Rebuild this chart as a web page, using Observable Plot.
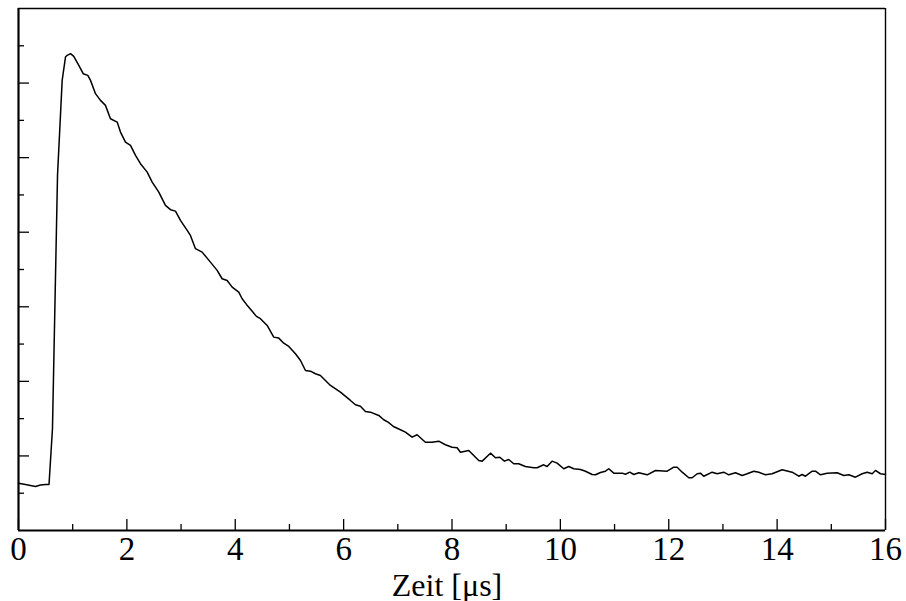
<!DOCTYPE html>
<html>
<head>
<meta charset="utf-8">
<script src="https://cdn.jsdelivr.net/npm/d3@7"></script>
<script src="https://cdn.jsdelivr.net/npm/@observablehq/plot@0.6"></script>
<style>
  html, body { margin: 0; padding: 0; background: #fff; }
  #chart { width: 906px; height: 601px; }
  #chart svg text { font-family: "Liberation Serif", "Times New Roman", serif; }
</style>
</head>
<body>
<div id="chart"></div>
<script>
// Time axis in µs
const time = [
  0, 0.129, 0.221, 0.314, 0.406, 0.498, 0.563,
  0.627, 0.720, 0.806, 0.867, 0.899, 0.960, 1.020, 1.113, 1.194, 1.279, 1.329, 1.421, 1.513,
  1.605, 1.697, 1.821, 1.882, 1.974, 2.067, 2.159, 2.251, 2.375, 2.467, 2.589, 2.712, 2.805,
  2.897, 2.989, 3.113, 3.173, 3.266, 3.389, 3.542, 3.666, 3.758, 3.851, 3.943, 4.065, 4.127,
  4.207, 4.317, 4.391, 4.465, 4.589, 4.710, 4.803, 4.895, 4.988, 5.111, 5.204, 5.296, 5.388,
  5.480, 5.572, 5.757, 5.941, 6.126, 6.218, 6.310, 6.402, 6.495, 6.648, 6.740, 6.827, 6.919,
  7.048, 7.140, 7.264, 7.356, 7.509, 7.633, 7.755, 7.878, 8.002, 8.095, 8.155, 8.309, 8.401,
  8.494, 8.557, 8.710, 8.802, 8.882, 8.967, 9.047, 9.139, 9.231, 9.354, 9.508, 9.570, 9.692,
  9.755, 9.847, 9.940, 10.062, 10.155, 10.247, 10.371, 10.463, 10.587, 10.648, 10.740, 10.832,
  10.893, 10.986, 11.140, 11.201, 11.281, 11.355, 11.447, 11.602, 11.755, 11.971, 12.093,
  12.155, 12.248, 12.370, 12.432, 12.525, 12.585, 12.646, 12.801, 12.893, 13.015, 13.108,
  13.231, 13.355, 13.447, 13.569, 13.661, 13.785, 13.908, 14.093, 14.277, 14.400, 14.462,
  14.523, 14.647, 14.708, 14.800, 14.923, 15.108, 15.230, 15.323, 15.446, 15.569, 15.662,
  15.754, 15.815, 15.907, 16.0
];
// Signal (arbitrary units, no labels on the axis)
const signal = [
  0.634, 0.617, 0.604, 0.590, 0.610, 0.617, 0.617,
  1.368, 4.762, 6.036, 6.349, 6.372, 6.394, 6.358, 6.237, 6.126, 6.103, 6.036, 5.858, 5.768,
  5.701, 5.522, 5.477, 5.343, 5.209, 5.164, 5.030, 4.919, 4.806, 4.672, 4.538, 4.360, 4.302,
  4.283, 4.158, 4.024, 3.957, 3.779, 3.733, 3.599, 3.488, 3.376, 3.353, 3.264, 3.197, 3.108,
  3.032, 2.938, 2.871, 2.840, 2.750, 2.593, 2.580, 2.512, 2.468, 2.370, 2.280, 2.146, 2.137,
  2.102, 2.079, 1.945, 1.855, 1.744, 1.686, 1.667, 1.596, 1.587, 1.543, 1.485, 1.449, 1.395,
  1.351, 1.319, 1.252, 1.284, 1.184, 1.184, 1.198, 1.150, 1.117, 1.109, 1.050, 1.073, 1.006,
  0.939, 0.930, 1.037, 0.975, 0.983, 0.930, 0.952, 0.895, 0.895, 0.858, 0.841, 0.841, 0.881,
  0.858, 0.930, 0.903, 0.828, 0.858, 0.828, 0.818, 0.795, 0.751, 0.747, 0.778, 0.795,
  0.828, 0.769, 0.769, 0.755, 0.782, 0.751, 0.774, 0.747, 0.805, 0.795, 0.849,
  0.849, 0.782, 0.707, 0.707, 0.761, 0.769, 0.728, 0.782, 0.761, 0.782, 0.747,
  0.774, 0.738, 0.761, 0.795, 0.782, 0.747, 0.761, 0.814, 0.782, 0.728, 0.751,
  0.728, 0.795, 0.795, 0.747, 0.769, 0.774, 0.738, 0.747, 0.715, 0.761, 0.782,
  0.761, 0.805, 0.761, 0.751
];

const xMajor = [0, 2, 4, 6, 8, 10, 12, 14, 16];
const xMinor = [1, 3, 5, 7, 9, 11, 13, 15];
const xTickLabels = ["0", "2", "4", "6", "8", "10", "12", "14", "16"];
const yMajor = [1, 2, 3, 4, 5, 6];
const yMinor = [0.5, 1.5, 2.5, 3.5, 4.5, 5.5, 6.5];
const xLabel = "Zeit [μs]";

const data = time.map((t, i) => ({t, v: signal[i]}));
const labelRows = xMajor.map((x, i) => ({x, label: xTickLabels[i]}));

const font = "Liberation Serif";

const chart = Plot.plot({
  width: 906,
  height: 601,
  marginLeft: 18,
  marginRight: 21,
  marginTop: 8,
  marginBottom: 71,
  style: {fontFamily: "Liberation Serif, serif", background: "#fff", color: "#000", overflow: "visible"},
  x: {domain: [0, 16], axis: null},
  y: {domain: [0, 7], axis: null},
  marks: [
    // inward ticks
    Plot.axisX(xMajor, {anchor: "bottom", tickSize: -11, tickFormat: () => "", label: null, strokeWidth: 1.3}),
    Plot.axisX(xMinor, {anchor: "bottom", tickSize: -6, tickFormat: () => "", label: null, strokeWidth: 1.3}),
    Plot.axisY(yMajor, {anchor: "left", tickSize: -11, tickFormat: () => "", label: null, strokeWidth: 1.3}),
    Plot.axisY(yMinor, {anchor: "left", tickSize: -6, tickFormat: () => "", label: null, strokeWidth: 1.3}),
    // frame
    Plot.ruleY([7], {stroke: "#000", strokeWidth: 1.4}),
    Plot.ruleX([16], {stroke: "#000", strokeWidth: 1.4}),
    Plot.ruleY([0], {stroke: "#000", strokeWidth: 2.2}),
    Plot.ruleX([0], {stroke: "#000", strokeWidth: 2.2}),
    // signal
    Plot.line(data, {x: "t", y: "v", stroke: "#000", strokeWidth: 1.5, strokeLinejoin: "round"}),
    // tick labels
    Plot.text(labelRows, {x: "x", text: "label", frameAnchor: "bottom", lineAnchor: "bottom", dy: 29, fontSize: 33, fontFamily: font, fill: "#000"}),
    // axis title
    Plot.text([xLabel], {text: d => d, frameAnchor: "bottom", lineAnchor: "bottom", dy: 65, dx: -5, fontSize: 32, fontFamily: font, fill: "#000"})
  ]
});
document.getElementById("chart").appendChild(chart);
</script>
</body>
</html>
